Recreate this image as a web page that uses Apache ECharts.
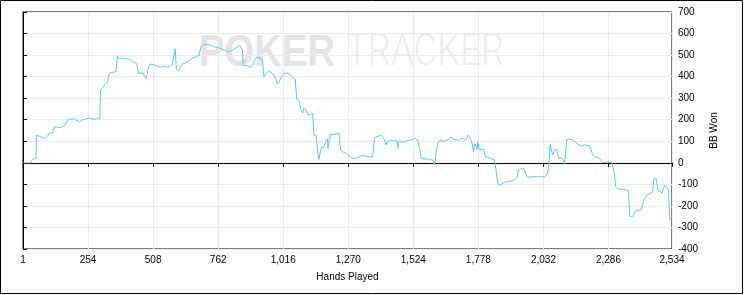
<!DOCTYPE html>
<html>
<head>
<meta charset="utf-8">
<script src="https://cdn.jsdelivr.net/npm/echarts@6/dist/echarts.min.js"></script>
<style>
html,body{margin:0;padding:0;background:#fff;}
#c{width:745px;height:295px;}
</style>
</head>
<body>
<div id="c"></div>
<script>
const xAxisName = "Hands Played";
const yAxisName = "BB Won";
const xMin = 0, xMax = 2534, xStep = 254;
const yMin = -400, yMax = 700, yStep = 100;

const hands = [1,29,33,41,48,51,52,63,78,86,94,99,104,115,123,130,141,146,157,167,173,180,196,206,211,222,232,248,261,274,290,300,303,313,321,329,334,337,350,363,368,376,391,415,428,443,451,468,474,481,484,490,497,510,523,531,541,552,562,573,583,588,594,599,607,614,625,635,649,661,675,688,693,695,706,719,732,745,760,774,787,800,813,826,836,847,852,857,860,870,878,888,896,901,912,920,935,941,948,959,969,977,988,993,1001,1011,1019,1029,1042,1050,1063,1069,1079,1084,1092,1097,1105,1113,1123,1131,1136,1144,1150,1155,1160,1165,1175,1183,1189,1191,1194,1197,1202,1212,1222,1233,1238,1241,1249,1259,1267,1280,1288,1301,1312,1318,1325,1339,1365,1370,1373,1380,1386,1393,1399,1406,1412,1417,1425,1435,1446,1453,1459,1464,1467,1474,1485,1495,1508,1519,1529,1534,1542,1547,1555,1566,1579,1589,1600,1605,1610,1613,1618,1623,1633,1644,1654,1665,1673,1680,1691,1699,1707,1717,1725,1733,1738,1746,1753,1759,1764,1768,1773,1776,1778,1799,1805,1823,1841,1846,1849,1854,1862,1870,1880,1893,1906,1917,1924,1930,1935,1943,1950,1956,1964,1971,1984,1997,2010,2024,2036,2044,2050,2055,2058,2063,2068,2076,2084,2091,2102,2110,2115,2120,2123,2131,2141,2149,2157,2164,2174,2184,2192,2200,2213,2218,2224,2234,2244,2252,2257,2263,2283,2299,2304,2309,2314,2322,2343,2356,2364,2367,2369,2380,2388,2393,2406,2414,2422,2429,2432,2442,2450,2458,2463,2471,2476,2481,2489,2494,2500,2505,2513,2520,2525,2530,2534];
const bbWon = [0,0,10,18,21,22,129,124,117,112,121,112,140,137,168,171,163,155,168,177,199,205,205,199,191,189,199,205,208,202,205,205,341,350,366,372,400,415,420,423,496,483,485,480,469,462,415,418,403,390,387,446,458,457,449,446,446,449,443,449,455,464,529,434,427,434,462,464,474,485,492,500,505,539,547,551,547,539,536,529,523,516,520,529,536,545,551,523,449,452,449,443,452,470,490,489,477,397,412,427,418,412,387,366,378,403,415,417,412,400,387,293,285,252,230,255,246,221,224,230,128,128,60,16,16,72,72,100,112,65,97,112,134,130,134,137,134,59,50,47,38,26,19,22,26,30,36,30,27,30,116,114,123,114,129,126,107,83,101,107,101,95,104,67,101,104,95,101,104,107,114,116,104,98,21,18,18,14,14,-7,8,52,55,101,104,101,104,114,120,107,107,104,110,114,104,114,129,114,95,49,89,98,64,98,64,61,30,21,14,5,-53,-97,-103,-97,-90,-88,-84,-81,-75,-66,-32,-29,-32,-26,-53,-66,-66,-63,-66,-63,-66,-57,-41,21,83,79,36,61,61,21,21,14,-7,67,107,110,107,104,95,86,81,78,84,81,78,75,38,28,26,19,13,0,4,0,-9,-49,-111,-120,-123,-126,-129,-197,-247,-250,-234,-222,-219,-219,-182,-179,-154,-145,-142,-135,-77,-71,-74,-132,-129,-142,-123,-104,-111,-126,-262,-256,-259];

const seriesData = hands.map((h, i) => [h, bbWon[i]]);
const labelFont = "Liberation Sans, Arial, sans-serif";

const chart = echarts.init(document.getElementById('c'), null, {renderer: 'canvas'});
chart.setOption({
  animation: false,
  backgroundColor: '#fff',
  grid: {left: 23, right: 73, top: 12, bottom: 46, show: true, borderColor: '#000', borderWidth: 1, backgroundColor: 'transparent'},
  graphic: [
    {type: 'rect', z: 100, shape: {x: 0.5, y: 0.5, width: 742, height: 293}, style: {fill: 'none', stroke: '#000', lineWidth: 1}},
    {type: 'text', z: 0, zlevel: 0, x: 199, y: 31, scaleX: 0.85, style: {text: 'POKER', font: 'bold 45px Liberation Sans, Arial, sans-serif', fill: '#e4e4e4'}},
    {type: 'text', z: 0, zlevel: 0, x: 346, y: 31, scaleX: 0.81, style: {text: 'TRACKER', font: '300 45px Roboto, Liberation Sans, sans-serif', fill: '#ededed'}}
  ],
  xAxis: {
    type: 'value', min: xMin, max: xMax, interval: xStep,
    name: xAxisName, nameLocation: 'middle', nameGap: 23,
    nameTextStyle: {color: '#000', fontSize: 10, fontFamily: labelFont},
    axisLine: {show: true, lineStyle: {color: '#000', width: 1}},
    axisTick: {show: true, length: 4, lineStyle: {color: '#000'}},
    axisLabel: {color: '#000', fontSize: 10, fontFamily: labelFont, margin: 6,
      formatter: v => v === 0 ? '1' : v.toLocaleString('en-US')},
    splitLine: {show: true, lineStyle: {color: '#ebebeb', width: 1}}
  },
  yAxis: {
    type: 'value', position: 'right', min: yMin, max: yMax, interval: yStep,
    name: yAxisName, nameLocation: 'middle', nameGap: 34, nameRotate: 90,
    nameTextStyle: {color: '#000', fontSize: 10, fontFamily: labelFont},
    axisLine: {show: true, lineStyle: {color: '#000', width: 1}},
    axisTick: {show: true, length: 4, lineStyle: {color: '#000'}},
    axisLabel: {color: '#000', fontSize: 10, fontFamily: labelFont, margin: 6},
    splitLine: {show: true, lineStyle: {color: '#ebebeb', width: 1}}
  },
  series: [{
    type: 'line',
    data: seriesData,
    showSymbol: false,
    symbol: 'none',
    lineStyle: {color: '#5cc3f7', width: 1},
    z: 5,
    markLine: {
      silent: true, symbol: 'none', animation: false,
      label: {show: false},
      lineStyle: {color: '#000', width: 1, type: 'solid'},
      data: [{yAxis: 0}]
    }
  }]
});
</script>
</body>
</html>
